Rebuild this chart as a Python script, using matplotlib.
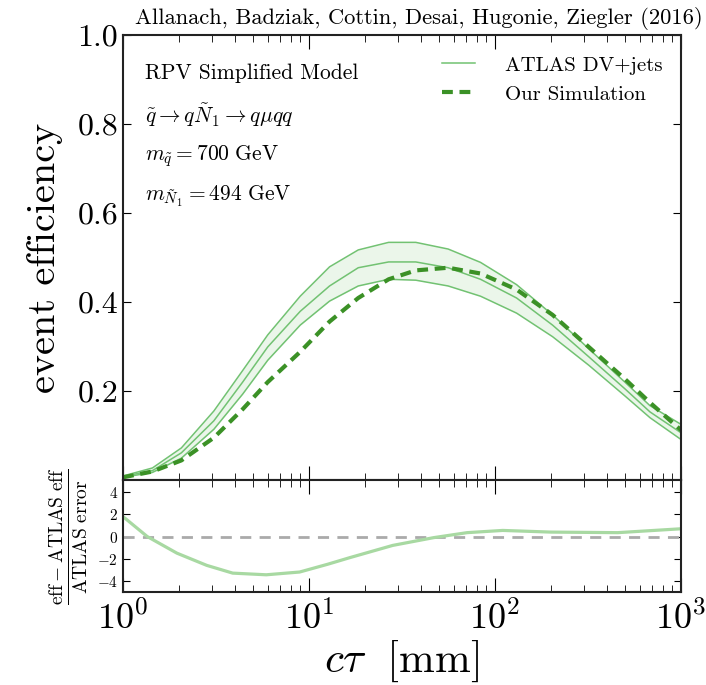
import numpy as np
import matplotlib
matplotlib.use("Agg")
import matplotlib.pyplot as plt
from matplotlib.ticker import FuncFormatter, LogLocator, NullFormatter

plt.rcParams['font.family'] = 'serif'
plt.rcParams['font.serif'] = ['cmr10', 'DejaVu Serif']
plt.rcParams['mathtext.fontset'] = 'cm'
plt.rcParams['axes.formatter.use_mathtext'] = True
plt.rcParams['axes.unicode_minus'] = True

# ---- data ----
ctau = [1.0, 1.44, 2.06, 3.08, 4.40, 6.0, 8.97, 12.9, 18.4, 26.8, 37.5,
        56.0, 83.6, 130.6, 204, 319, 499, 681, 1000]
atlas_up = [0.009, 0.027, 0.072, 0.155, 0.246, 0.326, 0.413, 0.479, 0.517, 0.534,
            0.534, 0.519, 0.489, 0.439, 0.371, 0.295, 0.220, 0.167, 0.125]
atlas_mid = [0.008, 0.021, 0.061, 0.133, 0.220, 0.299, 0.379, 0.436, 0.477, 0.490,
             0.490, 0.477, 0.451, 0.409, 0.348, 0.277, 0.205, 0.153, 0.106]
atlas_lo = [0.006, 0.017, 0.049, 0.114, 0.193, 0.269, 0.348, 0.402, 0.436, 0.451,
            0.449, 0.436, 0.413, 0.375, 0.322, 0.258, 0.189, 0.140, 0.091]
sim = [0.006, 0.019, 0.044, 0.095, 0.159, 0.220, 0.288, 0.356, 0.409, 0.451,
       0.471, 0.477, 0.464, 0.428, 0.371, 0.299, 0.227, 0.174, 0.112]

ratio_ctau = [1.0, 1.35, 1.95, 2.82, 3.89, 5.89, 8.91, 12.6, 16.6, 28.2, 46.8,
              70.8, 110, 200, 457, 1000]
ratio_val = [1.8, 0.0, -1.5, -2.6, -3.3, -3.45, -3.2, -2.5, -1.9, -0.8, -0.1,
             0.35, 0.55, 0.4, 0.35, 0.7]

main_yticks = [0.2, 0.4, 0.6, 0.8, 1.0]
ratio_yticks = [-4, -2, 0, 2, 4]

title_text = "Allanach, Badziak, Cottin, Desai, Hugonie, Ziegler (2016)"
info_lines = ["RPV Simplified Model",
              r"$\tilde{q}\rightarrow q\tilde{N}_1\rightarrow q\mu qq$",
              r"$m_{\tilde{q}} = 700\ \mathrm{GeV}$",
              r"$m_{\tilde{N}_1} = 494\ \mathrm{GeV}$"]

# ---- colors ----
c_atlas = '#72c272'
c_fill = '#ebf6ea'
c_sim = '#3b9126'
c_ratio = '#a8d9a2'

fig = plt.figure(figsize=(7.06, 6.85), dpi=100)
L, W = 0.1742, 0.7904
ax = fig.add_axes([L, 0.2993, W, 0.6496])
axr = fig.add_axes([L, 0.1358, W, 0.1635], sharex=ax)

ax.fill_between(ctau, atlas_lo, atlas_up, color=c_fill, lw=0)
ax.plot(ctau, atlas_up, color=c_atlas, lw=1.1)
ax.plot(ctau, atlas_lo, color=c_atlas, lw=1.1)
ax.plot(ctau, atlas_mid, color=c_atlas, lw=1.1, label='ATLAS DV+jets')
ax.plot(ctau, sim, color=c_sim, lw=3, ls=(0, (2.6, 1.6)), label='Our Simulation')

ax.set_xscale('log')
ax.set_xlim(1, 1000)
ax.set_ylim(0, 1.0)
ax.set_yticks(main_yticks)
ax.yaxis.set_major_formatter(FuncFormatter(lambda v, p: f"{v:.1f}"))
ax.set_ylabel('event efficiency', fontsize=29, labelpad=10)
ax.tick_params(axis='both', which='both', direction='in', top=True, right=True)
ax.tick_params(axis='y', which='major', length=6, labelsize=23)
ax.tick_params(axis='x', which='major', length=10)
ax.tick_params(axis='x', which='minor', length=5)
ax.tick_params(axis='x', labelbottom=False)

leg = ax.legend(loc='upper right', bbox_to_anchor=(1.0, 0.995), frameon=False,
                fontsize=15, handlelength=1.6, handletextpad=1.4, labelspacing=0.5)

ys = [0.915, 0.82, 0.728, 0.637]
for t, y in zip(info_lines, ys):
    ax.text(0.04, y, t, transform=ax.transAxes, fontsize=15.5, va='center', ha='left')

fig.text(0.995, 0.973, title_text, fontsize=16.2, ha='right', va='center')

# ratio panel
axr.axhline(0, color='#aaaaaa', lw=2, ls=(0, (4, 3)))
axr.plot(ratio_ctau, ratio_val, color=c_ratio, lw=2.3)
axr.set_ylim(-5, 5.1)
axr.set_yticks(ratio_yticks)
axr.yaxis.set_major_formatter(FuncFormatter(lambda v, p: rf"$\mathbf{{{int(v)}}}$" if v >= 0 else rf"$-\mathbf{{{int(-v)}}}$"))
axr.tick_params(axis='both', which='both', direction='in', top=True, right=True)
axr.tick_params(axis='y', which='major', length=5, labelsize=11)
axr.tick_params(axis='x', which='major', length=10, labelsize=26, pad=6)
axr.tick_params(axis='x', which='minor', length=5)
axr.xaxis.set_major_locator(LogLocator(base=10, numticks=10))
axr.xaxis.set_minor_locator(LogLocator(base=10, subs=np.arange(2, 10), numticks=20))
axr.xaxis.set_minor_formatter(NullFormatter())
axr.set_xlabel(r'$c\tau\ \ [\mathrm{mm}]$', fontsize=31, labelpad=2)
axr.set_ylabel(r'$\frac{\mathrm{eff}-\mathrm{ATLAS\ eff}}{\mathrm{ATLAS\ error}}$',
               fontsize=20, labelpad=5)

for a in (ax, axr):
    for s in a.spines.values():
        s.set_linewidth(1.5)
        s.set_color('#222222')

fig.savefig('out.png', dpi=100)
